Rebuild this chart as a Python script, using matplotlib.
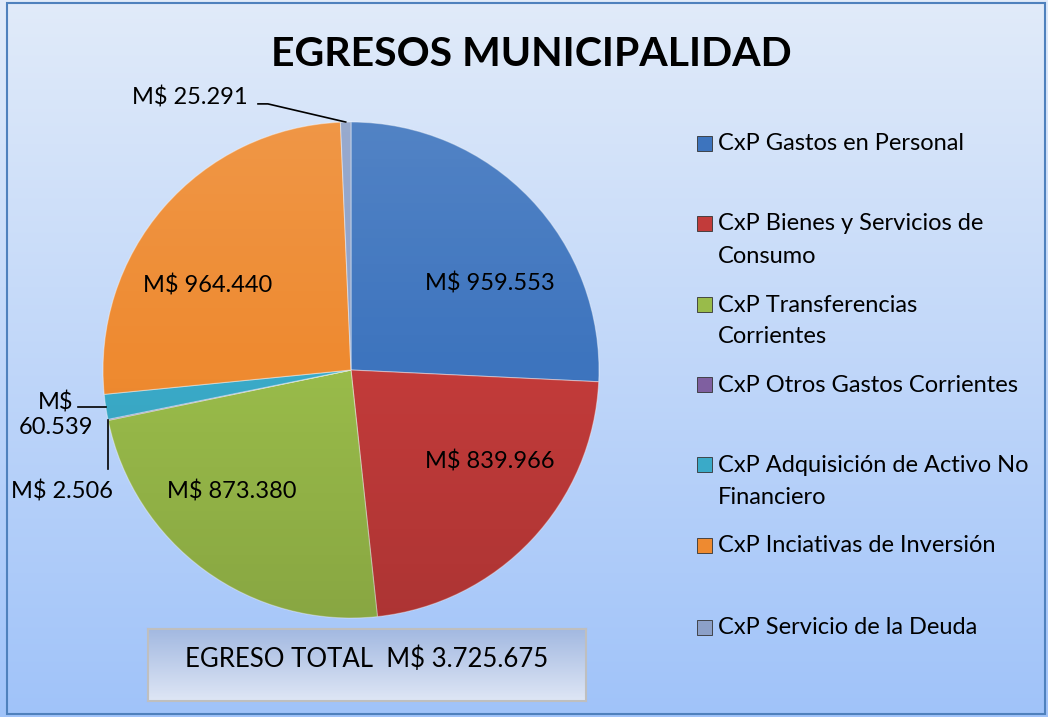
import numpy as np
import matplotlib.pyplot as plt
from matplotlib.patches import Rectangle, Circle

plt.rcParams['font.family'] = ['Lato', 'DejaVu Sans']

# data
categorias = ["CxP Gastos en Personal",
              "CxP Bienes y Servicios de\nConsumo",
              "CxP Transferencias\nCorrientes",
              "CxP Otros Gastos Corrientes",
              "CxP Adquisición de Activo No\nFinanciero",
              "CxP Inciativas de Inversión",
              "CxP Servicio de la Deuda"]
montos = [959553, 839966, 873380, 2506, 60539, 964440, 25291]
colores = ["#3D74BE", "#C23B3A", "#99BB4A", "#7F5FA0", "#3AAAC8", "#EE8A30", "#8CA0C8"]
total = sum(montos)

def fmt(v):
    return "M$ " + f"{v:,}".replace(",", ".")

W, H = 1048, 717
fig = plt.figure(figsize=(W / 100, H / 100), dpi=100)

# background gradient
bg = fig.add_axes([0, 0, 1, 1], zorder=-10)
grad = np.linspace(0, 1, 256).reshape(-1, 1)
top = np.array([225, 235, 250]) / 255
bot = np.array([160, 195, 249]) / 255
img = top + (bot - top) * grad[:, :, None]
bg.imshow(img, aspect='auto', extent=[0, 1, 0, 1])
bg.set_xlim(0, 1); bg.set_ylim(0, 1)
bg.axis('off')
bg.add_patch(Rectangle((0.007, 0.004), 0.99, 0.992, fill=False, ec="#4F81BD", lw=1.5))

# pie
cx, cy, r = 351, 370, 248
ax = fig.add_axes([(cx - r) / W, (H - cy - r) / H, 2 * r / W, 2 * r / H])
wedges, _ = ax.pie(montos, colors=colores, startangle=90, counterclock=False,
                   radius=1, wedgeprops=dict(edgecolor="#ffffff66", linewidth=0.8))
ax.set_xlim(-1, 1); ax.set_ylim(-1, 1)
ax.axis('off')

# soft lighting: lighter on top, darker at the bottom
shade = np.zeros((256, 1, 4))
t = np.linspace(0, 1, 256)
shade[:, 0, :3] = np.where(t[:, None] < 0.5, 1.0, 0.0)
shade[:, 0, 3] = np.abs(t - 0.5) * 0.22
im = ax.imshow(shade, extent=[-1, 1, -1, 1], aspect='auto', zorder=3)
im.set_clip_path(Circle((0, 0), 1, transform=ax.transData))
ax.set_xlim(-1, 1); ax.set_ylim(-1, 1)

def mid(w, rr=1.0):
    a = np.deg2rad((w.theta1 + w.theta2) / 2)
    return rr * np.cos(a), rr * np.sin(a)

fs = 17
# inside labels for the big slices (Excel-like placement)
label_pos = {0: (0.56, 0.35), 1: (0.56, -0.37), 2: (-0.48, -0.49), 5: (-0.58, 0.34)}
for i, (x, y) in label_pos.items():
    ax.text(x, y, fmt(montos[i]), ha='center', va='center', fontsize=fs, color='black', zorder=5)

# leader labels for small slices
# Servicio de la Deuda
ex, ey = mid(wedges[6])
ax.plot([ex, -0.335, -0.375], [ey, 1.073, 1.073], color='black', lw=1.2, clip_on=False)
ax.text(-0.415, 1.097, fmt(montos[6]), ha='right', va='center', fontsize=fs)
# Adquisicion
ex, ey = mid(wedges[4])
ax.plot([ex, -1.10], [ey, ey], color='black', lw=1.2, clip_on=False)
ax.text(-1.19, -0.18, fmt(montos[4]).replace(" ", "\n"), ha='center', va='center',
        fontsize=fs, linespacing=1.2)
# Otros gastos
ex, ey = mid(wedges[3])
ax.plot([ex, ex], [ey, -0.40], color='black', lw=1.2, clip_on=False)
ax.text(-1.165, -0.49, fmt(montos[3]), ha='center', va='center', fontsize=fs)

# title
fig.text(531 / W, 1 - 55 / H, "EGRESOS MUNICIPALIDAD", ha='center', va='center',
         fontsize=29.5, fontweight='bold')

# legend (manual, Excel-like spacing)
leg_y = [144, 224, 305, 385, 465, 546, 628]
for lab, col, y in zip(categorias, colores, leg_y):
    fig.patches.append(Rectangle((697 / W, 1 - (y + 7) / H), 15 / W, 15 / H,
                                 transform=fig.transFigure, fc=col, ec="#333333", lw=0.6))
    for i, line in enumerate(lab.split("\n")):
        fig.text(718 / W, 1 - (y + 32 * i) / H, line, ha='left', va='center', fontsize=fs)

# total box
bx = fig.add_axes([148 / W, 1 - 701 / H, (586 - 148) / W, (701 - 629) / H])
g2 = np.linspace(0, 1, 64).reshape(-1, 1)
t2 = np.array([163, 185, 225]) / 255
b2 = np.array([222, 230, 245]) / 255
bx.imshow(t2 + (b2 - t2) * g2[:, :, None], aspect='auto', extent=[0, 1, 0, 1])
bx.set_xticks([]); bx.set_yticks([])
for s in bx.spines.values():
    s.set_color("#BFBFBF"); s.set_linewidth(1.5)
bx.text(0.5, 0.58, "EGRESO TOTAL  " + fmt(total), ha='center', va='center', fontsize=18.5,
        transform=bx.transAxes)

fig.savefig("out.png", dpi=100)
